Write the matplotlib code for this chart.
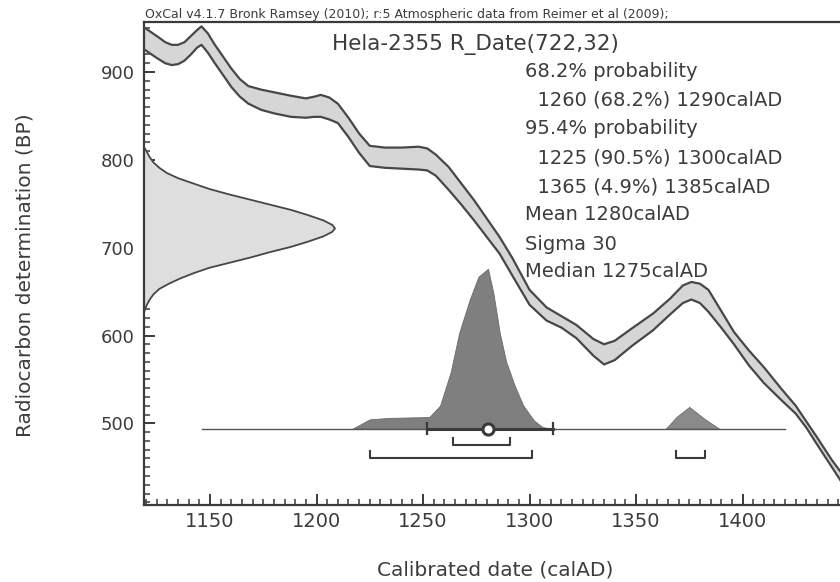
import matplotlib
matplotlib.use("Agg")
import matplotlib.pyplot as plt
from matplotlib.ticker import MultipleLocator

plt.rcParams['font.family'] = ['DejaVu Sans']

# ---------------- data ----------------
cal_years = [1119, 1122, 1125, 1129, 1132, 1135, 1138, 1141, 1144, 1146, 1149,
             1152, 1156, 1160, 1164, 1168, 1174, 1180, 1188, 1195, 1199, 1202,
             1206, 1210, 1215, 1220, 1225, 1232, 1240, 1248, 1252, 1256, 1262,
             1268, 1274, 1280, 1286, 1292, 1300, 1308, 1315, 1322, 1330, 1335,
             1340, 1348, 1358, 1366, 1372, 1376, 1380, 1384, 1390, 1396, 1403,
             1410, 1418, 1425, 1430, 1435, 1442, 1450]
curve_upper = [951, 946, 941, 934, 931, 931, 934, 941, 948, 952, 944,
               932, 918, 904, 892, 884, 880, 877, 873, 870, 872, 874,
               871, 864, 848, 830, 816, 814, 814, 815, 813, 806, 792,
               773, 754, 733, 712, 688, 652, 632, 622, 612, 596, 590,
               594, 608, 625, 642, 657, 661, 659, 652, 628, 604, 583,
               564, 540, 520, 502, 484, 458, 432]
curve_lower = [926, 921, 916, 910, 908, 909, 913, 920, 928, 931, 922,
               911, 897, 883, 872, 864, 857, 853, 849, 848, 849, 849,
               846, 842, 826, 808, 793, 791, 790, 789, 788, 782, 766,
               749, 731, 712, 693, 668, 635, 617, 609, 597, 577, 567,
               572, 588, 606, 624, 637, 641, 637, 627, 609, 590, 566,
               546, 527, 511, 495, 476, 450, 420]

# radiocarbon measurement distribution (BP, relative probability)
rc_bp = [629, 635, 641, 647, 653, 659, 665, 671, 677, 683, 689, 695, 701, 707,
         713, 718, 722, 726, 731, 737, 743, 749, 755, 761, 767, 773, 779, 785,
         791, 797, 803, 809, 815]
rc_prob = [0.005, 0.015, 0.03, 0.05, 0.08, 0.13, 0.19, 0.26, 0.34, 0.45, 0.56,
           0.66, 0.77, 0.86, 0.94, 0.985, 1.0, 0.985, 0.94, 0.86, 0.77, 0.66,
           0.55, 0.44, 0.34, 0.26, 0.18, 0.12, 0.08, 0.05, 0.03, 0.015, 0.0]

# calibrated date distribution (calAD, relative probability)
cal_prob_years = [1217, 1225, 1234, 1245, 1253, 1258, 1263, 1267, 1272, 1276,
                  1280.5, 1283, 1286, 1289, 1293, 1297, 1302, 1306, 1310]
cal_prob = [0.0, 0.058, 0.067, 0.07, 0.073, 0.144, 0.354, 0.60, 0.81, 0.95,
            1.0, 0.85, 0.60, 0.42, 0.27, 0.146, 0.052, 0.01, 0.0]
cal_prob2_years = [1364, 1369, 1375, 1382, 1389]
cal_prob2 = [0.0, 0.073, 0.136, 0.0625, 0.0]

baseline_span = (1146, 1420)
mean_cal = 1280.7
sigma_span = (1251.7, 1311.2)
range_68 = [(1264, 1291)]
range_95 = [(1225, 1301), (1369, 1382.4)]

x_ticks = [1150, 1200, 1250, 1300, 1350, 1400]
y_ticks = [500, 600, 700, 800, 900]

header = "OxCal v4.1.7 Bronk Ramsey (2010); r:5 Atmospheric data from Reimer et al (2009);"
title = "Hela-2355 R_Date(722,32)"
info_lines = ["68.2% probability",
              "  1260 (68.2%) 1290calAD",
              "95.4% probability",
              "  1225 (90.5%) 1300calAD",
              "  1365 (4.9%) 1385calAD",
              "Mean 1280calAD",
              "Sigma 30",
              "Median 1275calAD"]

# ---------------- figure ----------------
W, H = 840, 582
fig = plt.figure(figsize=(W / 100, H / 100), dpi=100)
ax_l, ax_r, ax_t, ax_b = 144, 849, 22, 505
ax = fig.add_axes([ax_l / W, 1 - ax_b / H, (ax_r - ax_l) / W, (ax_b - ax_t) / H])
ax.set_xlim(1119, 1450)
ax.set_ylim(407, 957)

dark = '#3a3a3a'
text_col = '#3c3c3c'

# calibration curve band
ax.fill_between(cal_years, curve_lower, curve_upper, color='#d6d6d6', lw=0, zorder=2)
ax.plot(cal_years, curve_upper, color='#474747', lw=1.6, zorder=3, solid_joinstyle='round')
ax.plot(cal_years, curve_lower, color='#474747', lw=1.6, zorder=3, solid_joinstyle='round')

# radiocarbon distribution on y axis
rc_height = 89.7
x0 = ax.get_xlim()[0]
rc_x = [x0 + p * rc_height for p in rc_prob]
ax.fill_betweenx(rc_bp, x0, rc_x, color='#dedede', lw=0, zorder=2)
ax.plot(rc_x, rc_bp, color='#474747', lw=1.3, zorder=3)

# calibrated distribution
base_y = 494
cal_height = 182
ax.fill_between(cal_prob_years, base_y, [base_y + p * cal_height for p in cal_prob],
                color='#7f7f7f', lw=0.6, edgecolor='#6a6a6a', zorder=4)
ax.fill_between(cal_prob2_years, base_y, [base_y + p * cal_height for p in cal_prob2],
                color='#8a8a8a', lw=0.6, edgecolor='#707070', zorder=4)

# baseline and sigma bar
ax.plot(baseline_span, [base_y, base_y], color='#555555', lw=1.0, zorder=5)
ax.plot(sigma_span, [base_y, base_y], color=dark, lw=2.2, zorder=6)
for xe in sigma_span:
    ax.plot([xe, xe], [base_y - 6, base_y + 6], color=dark, lw=1.6, zorder=6)
ax.plot([mean_cal], [base_y], marker='o', ms=8, mfc='white', mec=dark, mew=2.2, zorder=7)

# range brackets
def bracket(a, b, y):
    ax.plot([a, a, b, b], [y + 8, y, y, y + 8], color=dark, lw=1.5, zorder=6)

for a, b in range_68:
    bracket(a, b, 475)
for a, b in range_95:
    bracket(a, b, 460.5)

# axes styling
for s in ['left', 'bottom', 'top']:
    ax.spines[s].set_color(dark)
    ax.spines[s].set_linewidth(1.6)
ax.spines['right'].set_visible(False)

ax.set_xticks(x_ticks)
ax.set_yticks(y_ticks)
ax.xaxis.set_minor_locator(MultipleLocator(5))
ax.yaxis.set_minor_locator(MultipleLocator(10))
ax.tick_params(which='major', direction='in', length=8, width=1.4, color=dark)
ax.tick_params(which='minor', direction='in', length=4, width=1.1, color=dark)
ax.tick_params(axis='x', which='major', labelsize=14, pad=5, labelcolor=text_col)
ax.tick_params(axis='y', which='major', labelsize=13, pad=6.5, labelcolor=text_col)

ax.set_xlabel("Calibrated date (calAD)", fontsize=14.5, color=text_col)
ax.xaxis.label.set_va('baseline')
ax.xaxis.set_label_coords((495 - ax_l) / (ax_r - ax_l), (ax_b - 575) / (ax_b - ax_t))
ax.set_ylabel("Radiocarbon determination (BP)", fontsize=14.5, color=text_col)
ax.yaxis.label.set_va('center')
ax.yaxis.set_label_coords((25 - ax_l) / (ax_r - ax_l), (ax_b - 275) / (ax_b - ax_t))

# texts
def ftext(px, py, s, **kw):
    fig.text(px / W, 1 - py / H, s, va='baseline', ha='left', color=text_col, **kw)

ftext(145, 18, header, fontsize=9)
ftext(332, 50, title, fontsize=15.5)
baselines = [76.7, 105.7, 134, 163.3, 192.7, 220, 250, 276.7]
for s, by in zip(info_lines, baselines):
    ftext(525, by, s, fontsize=14)

fig.savefig('out.png', dpi=100)
